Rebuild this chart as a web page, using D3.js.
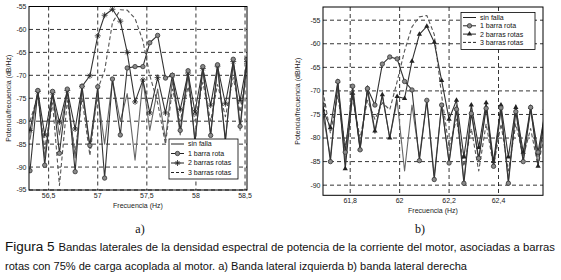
<!DOCTYPE html>
<html>
<head>
<meta charset="utf-8">
<script src="https://cdn.jsdelivr.net/npm/d3@7"></script>
<style>
  body { margin: 0; background: #fff; }
  svg { display: block; font-family: "Liberation Sans", Arial, sans-serif; }
</style>
</head>
<body>
<svg id="chart" width="561" height="280"></svg>
<script>
// series names (legend order)
const seriesNames = ["sin falla", "1 barra rota", "2 barras rotas", "3 barras rotas"];

// a) left sideband
const freqA = [56.31, 56.39, 56.46, 56.54, 56.61, 56.69, 56.77, 56.84, 56.92, 57.00,
               57.07, 57.15, 57.23, 57.30, 57.38, 57.46, 57.53, 57.61, 57.69, 57.76,
               57.84, 57.92, 57.99, 58.07, 58.15, 58.22, 58.30, 58.38, 58.45, 58.52];
const sinFallaA = [-84, -73.5, -88, -74, -83, -73.5, -88, -73, -86, -74,
                   -85, -71, -80, -74, -88.5, -71, -82, -73, -84, -71,
                   -83, -70, -84, -69, -83, -68.5, -84, -67.5, -82, -67];
const barra1A = [-90.8, -73.3, -89.6, -73.5, -87, -73, -91, -72.4, -85.3, -72.5,
                 -92.4, -70.8, -83, -68.4, -68.1, -68.1, -62.9, -61.3, -70.6, -70,
                 -82, -69, -84.7, -68.1, -83.1, -67.7, -84.4, -66.5, -81.1, -66.5];
const barras2A = [-82, -73.5, -83, -73.8, -80.2, -73.3, -81.7, -72.4, -70.1, -61.4,
                  -56.9, -55.6, -58.2, -65, -75.8, -71, -78.2, -70.5, -78.2, -70,
                  -77.5, -69.5, -78, -68.5, -76.5, -68, -76.2, -67, -75.5, -67];
const barras3A = [-80, -74.5, -86, -76, -94, -75.5, -87, -75, -87.5, -73,
                  -69, -58.5, -55.7, -55.8, -57.6, -62.5, -70, -76, -85, -73,
                  -80, -72.5, -80, -71.5, -80, -72, -79, -70.5, -78, -69];
const xTicksA = [56.5, 57, 57.5, 58, 58.5];
const yTicksA = [-95, -90, -85, -80, -75, -70, -65, -60, -55];

// b) right sideband
const freqB = [61.69, 61.72, 61.75, 61.78, 61.81, 61.84, 61.87, 61.90, 61.93, 61.96,
               61.99, 62.02, 62.05, 62.08, 62.11, 62.14, 62.17, 62.20, 62.23, 62.26,
               62.29, 62.32, 62.35, 62.38, 62.41, 62.44, 62.47, 62.50, 62.53, 62.56, 62.59];
const sinFallaB = [-75, -84, -69, -85, -70, -82, -70, -79, -71, -80,
                   -72, -87, -73, -84, -72, -88, -73, -85, -73, -89,
                   -74, -85, -73, -86, -74, -89, -73, -85, -74, -84, -74];
const barra1B = [-73, -85, -68, -83, -69, -82.5, -69.5, -73, -64.3, -62.8,
                 -63.2, -68, -69.8, -84.8, -72, -88.8, -73, -85.3, -73.9, -89.6,
                 -74.8, -84.3, -73.7, -86, -73.6, -89.6, -74.4, -85, -73.5, -83, -74];
const barras2B = [-74, -77.8, -68, -86.5, -70.5, -82.3, -69.4, -78.5, -70.8, -80,
                  -71.2, -71.6, -63.7, -58, -56.3, -59.7, -67.8, -76, -72, -84,
                  -73, -82, -72.5, -85, -73, -84, -73.5, -83, -73.5, -86, -74];
const barras3B = [-70, -79, -71, -82, -71.5, -80, -72, -76, -72.5, -74,
                  -68, -61.5, -56.4, -54.3, -54, -58, -71, -82, -76, -86,
                  -78, -87, -77, -86, -77, -87, -77, -84, -78, -86, -78];
const xTicksB = [61.8, 62, 62.2, 62.4];
const yTicksB = [-90, -85, -80, -75, -70, -65, -60, -55];

const svg = d3.select('#chart');
const fmt = v => String(v).replace('.', ',');

// marker shapes
function drawMarker(g, kind, x, y) {
    if (kind === 'circle') {
        g.append('circle').attr('cx', x).attr('cy', y).attr('r', 2.2)
            .attr('fill', '#8a8a8a').attr('stroke', '#333').attr('stroke-width', 0.8);
    } else if (kind === 'plus') {
        g.append('path').attr('d', `M${x-3},${y}H${x+3}M${x},${y-3}V${y+3}M${x-2},${y-2}L${x+2},${y+2}M${x-2},${y+2}L${x+2},${y-2}`)
            .attr('stroke', '#222').attr('stroke-width', 0.8).attr('fill', 'none');
    } else if (kind === 'triangle') {
        g.append('path').attr('d', d3.symbol(d3.symbolTriangle, 12)())
            .attr('transform', `translate(${x},${y})`).attr('fill', '#222');
    }
}

function drawPanel(p) {
    const x = d3.scaleLinear().domain(p.xDomain).range([p.left, p.right]);
    const y = d3.scaleLinear().domain(p.yDomain).range([p.bottom, p.top]);
    const g = svg.append('g');

    const clipId = 'clip-' + p.id;
    svg.append('clipPath').attr('id', clipId)
        .append('rect').attr('x', p.left).attr('y', p.top)
        .attr('width', p.right - p.left).attr('height', p.bottom - p.top);

    // dashed grid
    g.selectAll('.gx').data(p.xTicks).enter().append('line')
        .attr('x1', d => x(d)).attr('x2', d => x(d))
        .attr('y1', p.top).attr('y2', p.bottom)
        .attr('stroke', '#000').attr('stroke-width', 0.8).attr('stroke-dasharray', '4,3');
    g.selectAll('.gy').data(p.yTicks).enter().append('line')
        .attr('x1', p.left).attr('x2', p.right)
        .attr('y1', d => y(d)).attr('y2', d => y(d))
        .attr('stroke', '#000').attr('stroke-width', 0.8).attr('stroke-dasharray', '4,3');

    // tick labels
    g.selectAll('.tx').data(p.xTicks).enter().append('text')
        .attr('x', d => x(d)).attr('y', p.bottom + 7.5)
        .attr('text-anchor', 'middle').attr('font-size', 7).attr('fill', '#222')
        .text(fmt);
    g.selectAll('.ty').data(p.yTicks).enter().append('text')
        .attr('x', p.left - 2.5).attr('y', d => y(d)).attr('dy', '0.35em')
        .attr('text-anchor', 'end').attr('font-size', 7).attr('fill', '#222')
        .text(fmt);

    // series (drawn back to front)
    const line = d3.line().x(d => x(d[0])).y(d => y(d[1]));
    const lines = g.append('g').attr('clip-path', `url(#${clipId})`);
    p.drawOrder.forEach(k => {
        const s = p.series[k];
        const pts = s.freq.map((f, i) => [f, s.values[i]]);
        lines.append('path').datum(pts).attr('d', line)
            .attr('fill', 'none').attr('stroke', s.color).attr('stroke-width', 1.1)
            .attr('stroke-dasharray', s.dash || null).attr('stroke-linejoin', 'round');
        if (s.marker) pts.forEach(d => drawMarker(lines, s.marker, x(d[0]), y(d[1])));
    });

    // frame
    g.append('rect').attr('x', p.left).attr('y', p.top)
        .attr('width', p.right - p.left).attr('height', p.bottom - p.top)
        .attr('fill', 'none').attr('stroke', '#000').attr('stroke-width', 1);

    // axis titles
    g.append('text').attr('x', (p.left + p.right) / 2).attr('y', p.xLabelY)
        .attr('text-anchor', 'middle').attr('font-size', 7).attr('fill', '#222')
        .text('Frecuencia (Hz)');
    g.append('text').attr('transform', `translate(${p.yLabelX},${(p.top + p.bottom) / 2}) rotate(-90)`)
        .attr('text-anchor', 'middle').attr('font-size', 7).attr('fill', '#222')
        .text('Potencia/frecuencia (dB/Hz)');

    // legend
    const L = p.legend;
    const lg = g.append('g');
    lg.append('rect').attr('x', L.x).attr('y', L.y).attr('width', L.w).attr('height', L.h)
        .attr('fill', '#fff').attr('stroke', '#000').attr('stroke-width', 0.8);
    p.series.forEach((s, i) => {
        const yy = L.y + 5 + i * L.step;
        lg.append('line').attr('x1', L.x + 2).attr('x2', L.x + 15).attr('y1', yy).attr('y2', yy)
            .attr('stroke', '#222').attr('stroke-width', 1).attr('stroke-dasharray', s.dash ? '3,2' : null);
        if (s.marker) drawMarker(lg, s.marker, L.x + 8.5, yy);
        lg.append('text').attr('x', L.x + 19).attr('y', yy).attr('dy', '0.35em')
            .attr('font-size', 7).attr('fill', '#111').text(seriesNames[i]);
    });

    // sub-caption
    svg.append('text').attr('x', p.subX).attr('y', 233)
        .attr('text-anchor', 'middle').attr('font-family', '"Liberation Serif", serif')
        .attr('font-size', 12).attr('fill', '#111').text(p.sub);
}

drawPanel({
    id: 'a', left: 29, right: 247, top: 6.5, bottom: 190,
    xDomain: [56.3, 58.52], yDomain: [-95, -55],
    xTicks: xTicksA, yTicks: yTicksA, xLabelY: 208, yLabelX: 11,
    series: [
        { freq: freqA, values: sinFallaA, color: '#666' },
        { freq: freqA, values: barra1A, color: '#333', marker: 'circle' },
        { freq: freqA, values: barras2A, color: '#333', marker: 'plus' },
        { freq: freqA, values: barras3A, color: '#555', dash: '4,2.5' }
    ],
    drawOrder: [0, 3, 2, 1],
    legend: { x: 169, y: 139, w: 69, h: 40, step: 9.5 },
    sub: 'a)', subX: 140
});

drawPanel({
    id: 'b', left: 323, right: 543, top: 7, bottom: 195.3,
    xDomain: [61.69, 62.58], yDomain: [-92.15, -52.2],
    xTicks: xTicksB, yTicks: yTicksB, xLabelY: 213, yLabelX: 300,
    series: [
        { freq: freqB, values: sinFallaB, color: '#666' },
        { freq: freqB, values: barra1B, color: '#333', marker: 'circle' },
        { freq: freqB, values: barras2B, color: '#333', marker: 'triangle' },
        { freq: freqB, values: barras3B, color: '#555', dash: '4,2.5' }
    ],
    drawOrder: [0, 3, 2, 1],
    legend: { x: 461, y: 12.5, w: 74, h: 37, step: 8.3 },
    sub: 'b)', subX: 420
});

// figure caption
const capFont = '"Liberation Sans Narrow", "Arial Narrow", "Liberation Sans", sans-serif';
const cap = svg.append('text').attr('x', 5).attr('y', 251).attr('fill', '#111')
    .attr('font-family', capFont)
    .attr('textLength', 550).attr('lengthAdjust', 'spacingAndGlyphs');
cap.append('tspan').attr('font-size', 12).text('Figura 5 ');
cap.append('tspan').attr('font-size', 10)
    .text('Bandas laterales de la densidad espectral de potencia de la corriente del motor, asociadas a barras');
svg.append('text').attr('x', 5).attr('y', 270).attr('fill', '#111')
    .attr('font-family', capFont).attr('font-size', 10)
    .attr('textLength', 462).attr('lengthAdjust', 'spacingAndGlyphs')
    .text('rotas con 75% de carga acoplada al motor. a) Banda lateral izquierda b) banda lateral derecha');
</script>
</body>
</html>
